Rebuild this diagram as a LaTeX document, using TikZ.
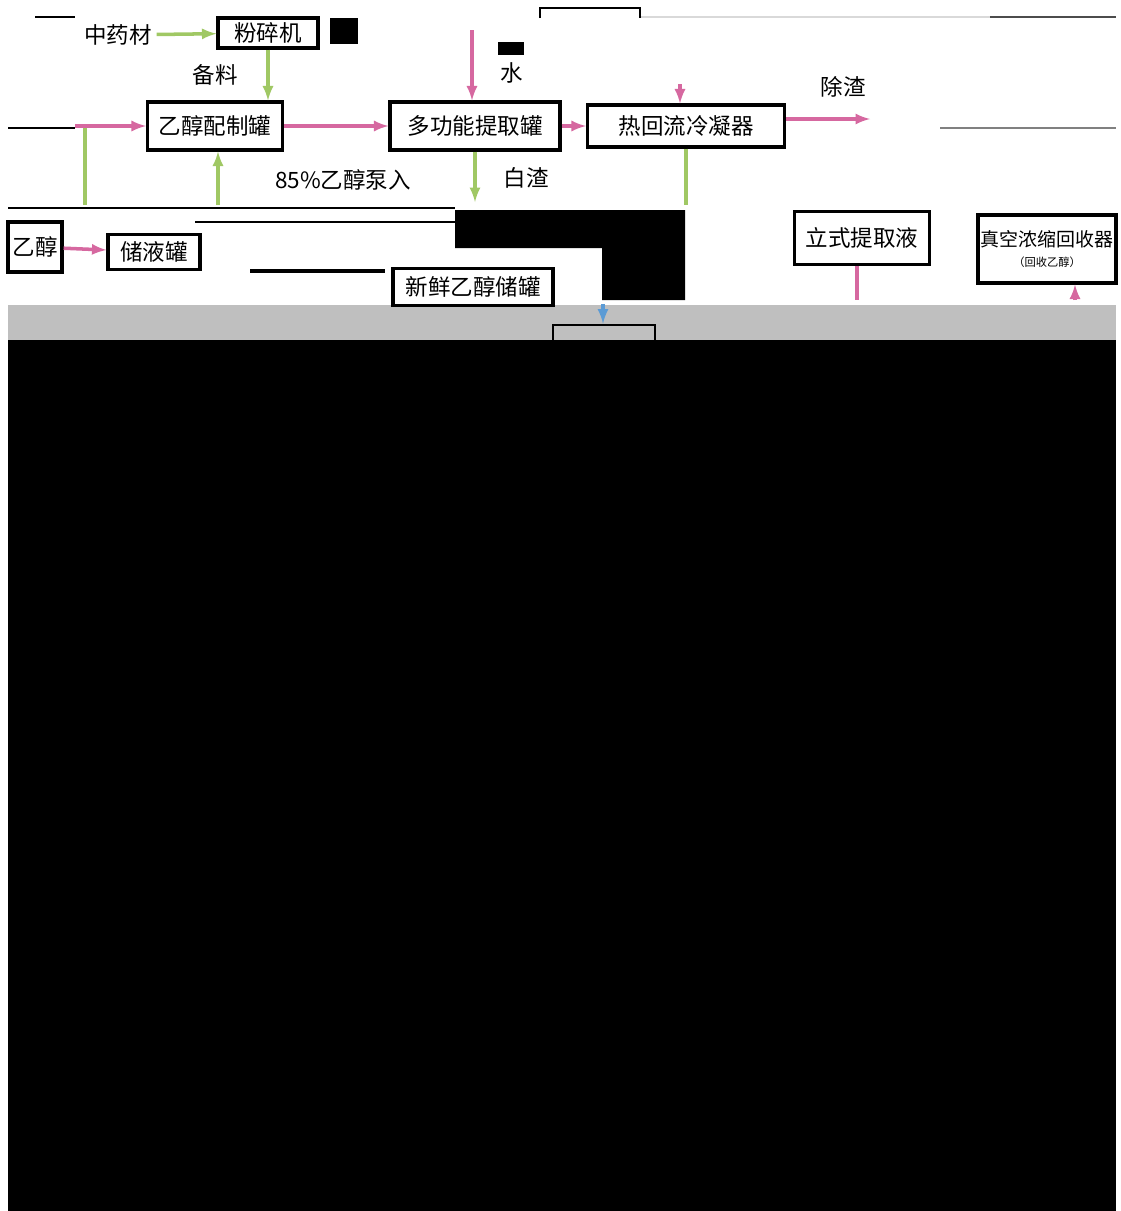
\documentclass[tikz,border=0pt]{standalone}
\usepackage{fontspec}
\setmainfont{Noto Sans CJK SC}
\definecolor{flowpink}{RGB}{214,104,160}
\definecolor{flowgreen}{RGB}{160,200,100}
\definecolor{flowblue}{RGB}{91,155,213}

\begin{document}
\begin{tikzpicture}[x=0.025cm,y=-0.025cm,>=latex,
  box/.style={draw,line width=2.2pt,inner sep=0pt,font=\fontsize{16}{19}\selectfont},
  lbl/.style={font=\fontsize{16}{19}\selectfont},
  pinkarr/.style={->,draw=flowpink,line width=2.5pt},
  greenarr/.style={->,draw=flowgreen,line width=2.5pt},
  greenline/.style={draw=flowgreen,line width=2.5pt},
  bluearr/.style={->,draw=flowblue,line width=2.5pt}]
  \useasboundingbox (0,0) rectangle (1120,1211);
  % background
  \fill[white] (0,0) rectangle (1120,1211);
  \fill[black!25] (8,305) rectangle (1116,340);
  \fill[black] (8,340) rectangle (1116,1211);
  \fill[black] (455,210) -- (685,210) -- (685,300) -- (602,300) -- (602,248) -- (455,248) -- cycle;
  \fill[black] (330,18) rectangle (358,44);
  \fill[black] (498,42) rectangle (524,55);
  \draw[line width=1.5pt] (35,17) -- (75,17);
  \draw[line width=1pt,black!15] (640,17) -- (990,17);
  \draw[line width=1.5pt,black!70] (990,17) -- (1116,17);
  \draw[line width=2pt] (540,18) -- (540,8) -- (640,8) -- (640,18);
  \draw[line width=1pt] (8,128) -- (75,128);
  \draw[line width=1pt,black!50] (940,128) -- (1116,128);
  \draw[line width=1.5pt] (8,208) -- (455,208);
  \draw[line width=1.5pt] (195,222) -- (455,222);
  \draw[line width=3pt] (250,271) -- (385,271);

  % row 1
  \node[lbl] (herb) at (118,35) {中药材};
  \node[box,minimum width=2.5cm,minimum height=0.75cm] (mill) at (268,33) {粉碎机};
  \node[lbl] at (215,75) {备料};
  \node[lbl] at (512,73) {水};
  \node[lbl] at (843,87) {除渣};

  % row 2
  \node[box,minimum width=3.375cm,minimum height=1.2cm] (mix) at (215,126) {乙醇配制罐};
  \node[box,minimum width=4.25cm,minimum height=1.2cm] (extr) at (475,126) {多功能提取罐};
  \node[box,minimum width=4.925cm,minimum height=1.05cm] (cond) at (686,126) {热回流冷凝器};
  \node[lbl] at (343,180) {85\%乙醇泵入};
  \node[lbl] at (526,178) {白渣};

  % row 3
  \node[box,minimum width=1.35cm,minimum height=1.25cm] (etoh) at (35,247) {乙醇};
  \node[box,minimum width=2.3cm,minimum height=0.875cm] (tank) at (154,252) {储液罐};
  \node[box,minimum width=3.375cm,minimum height=1.325cm] (vert) at (862,238) {立式提取液};
  \node[box,minimum width=3.45cm,minimum height=1.7cm,align=center,font=\fontsize{13.5}{16}\selectfont] (vac) at (1047,249) {真空浓缩回收器\\[-2pt]{\fontsize{8}{10}\selectfont （回收乙醇）}};
  \node[box,minimum width=4cm,minimum height=0.925cm] (fresh) at (473,287) {新鲜乙醇储罐};
  \node[draw,line width=2pt,minimum width=2.55cm,minimum height=0.5cm] (meter) at (604,335) {};

  \coordinate (inlet) at (75,126);
  \coordinate (slag) at (870,119);
  \coordinate (water) at (472,30);
  \coordinate (cool) at (680,84);
  \coordinate (pump) at (218,205);
  \coordinate (ltop) at (85,128);
  \coordinate (lbot) at (85,205);
  \coordinate (waste) at (475,202);
  \coordinate (condout) at (686,205);
  \coordinate (vertout) at (857,300);
  \coordinate (recin) at (1075,300);
  \coordinate (feed) at (603,304);

  \draw[greenarr] (herb) -- (mill);
  \draw[greenarr] (mill.south) -- (mill.south |- mix.north);
  \draw[pinkarr] (inlet) -- (mix);
  \draw[pinkarr] (mix) -- (extr);
  \draw[pinkarr] (extr) -- (cond);
  \draw[pinkarr] (cond.east |- slag) -- (slag);
  \draw[pinkarr] (water) -- (water |- extr.north);
  \draw[pinkarr] (cool) -- (cond.north -| cool);
  \draw[greenarr] (pump) -- (pump |- mix.south);
  \draw[greenline] (ltop) -- (lbot);
  \draw[greenarr] (extr.south) -- (waste);
  \draw[greenline] (cond.south) -- (condout);
  \draw[pinkarr] (etoh) -- (tank);
  \draw[draw=flowpink,line width=2.5pt] (vertout |- vert.south) -- (vertout);
  \draw[pinkarr] (recin) -- (recin |- vac.south);
  \draw[bluearr] (feed) -- (meter.north -| feed);
\end{tikzpicture}
\end{document}
